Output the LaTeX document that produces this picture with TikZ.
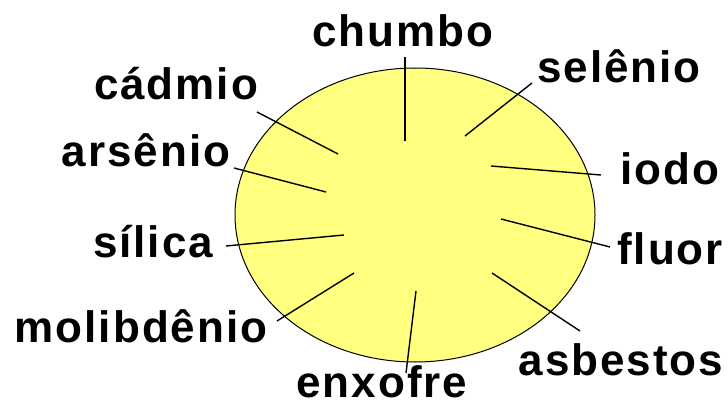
\documentclass[tikz,border=0pt]{standalone}
\usepackage{fontspec}
\usetikzlibrary{shapes.geometric}
\setmainfont{Liberation Sans}[LetterSpace=4.5]
\definecolor{pale}{RGB}{255,255,128}
\tikzset{
  lbl/.style={inner sep=0pt, anchor=base, font=\fontsize{44}{50}\selectfont\bfseries},
  tick/.style={line width=1.4pt, black},
}
\begin{document}
\begin{tikzpicture}[x=1pt,y=-1pt]
\useasboundingbox (0,0) rectangle (728,406);
\node[draw=black, line width=1pt, fill=pale, ellipse, minimum width=360pt, minimum height=294pt, inner sep=0pt] (disc) at (415,215) {};
% labels
\node[lbl] (chumbo) at (403,47) {chumbo};
\node[lbl] (cadmio) at (176,100) {cádmio};
\node[lbl] (selenio) at (619,83) {selênio};
\node[lbl] (arsenio) at (146,167) {arsênio};
\node[lbl] (iodo) at (670,185) {iodo};
\node[lbl] (silica) at (153,258) {sílica};
\node[lbl] (fluor) at (670,264) {fluor};
\node[lbl] (molib) at (141,342) {molibdênio};
\node[lbl] (asbestos) at (621,375) {asbestos};
\node[lbl] (enxofre) at (382,397) {enxofre};
% tick end points
\coordinate (c1) at (405,57);  \coordinate (c2) at (405,141);
\coordinate (s1) at (532,83);  \coordinate (s2) at (465,136);
\coordinate (k1) at (257,112); \coordinate (k2) at (338,154);
\coordinate (a1) at (234,168); \coordinate (a2) at (326,192);
\coordinate (i1) at (601,175); \coordinate (i2) at (491,166);
\coordinate (f1) at (610,247); \coordinate (f2) at (501,219);
\coordinate (l1) at (226,246); \coordinate (l2) at (344,235);
\coordinate (m1) at (277,321); \coordinate (m2) at (354,273);
\coordinate (e1) at (406,373); \coordinate (e2) at (416,291);
\coordinate (b1) at (580,331); \coordinate (b2) at (492,273);
\draw[tick] (c1) -- (c2);
\draw[tick] (s1) -- (s2);
\draw[tick] (k1) -- (k2);
\draw[tick] (a1) -- (a2);
\draw[tick] (i1) -- (i2);
\draw[tick] (f1) -- (f2);
\draw[tick] (l1) -- (l2);
\draw[tick] (m1) -- (m2);
\draw[tick] (e1) -- (e2);
\draw[tick] (b1) -- (b2);
\end{tikzpicture}
\end{document}
